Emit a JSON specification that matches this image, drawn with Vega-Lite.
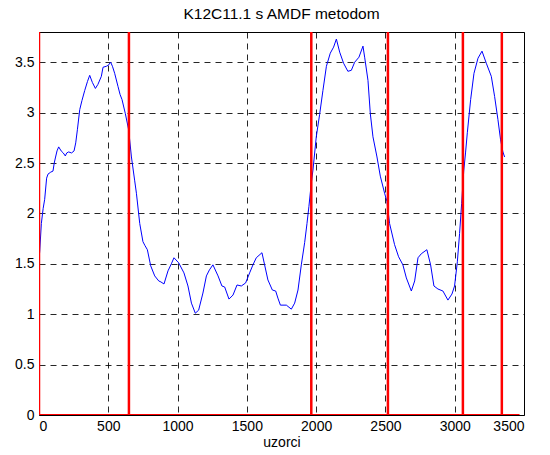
{
  "$schema": "https://vega.github.io/schema/vega-lite/v6.json",
  "autosize": "none",
  "width": 485,
  "height": 383,
  "padding": {"left": 39, "top": 32, "right": 26, "bottom": 40},
  "background": "white",
  "title": {"text": "K12C11.1 s AMDF metodom", "font": "Liberation Sans", "fontSize": 15.5, "fontWeight": "normal", "color": "#000", "offset": 10, "anchor": "middle"},
  "datasets": {
    "curve": [
      {"x":0,"y":1.55},{"x":5,"y":1.62},{"x":17,"y":1.9},{"x":30,"y":2.05},{"x":41,"y":2.14},{"x":55,"y":2.35},{"x":65,"y":2.39},{"x":85,"y":2.41},{"x":101,"y":2.42},{"x":110,"y":2.5},{"x":118,"y":2.55},{"x":130,"y":2.62},{"x":142,"y":2.66},{"x":160,"y":2.62},{"x":175,"y":2.6},{"x":190,"y":2.57},{"x":200,"y":2.6},{"x":214,"y":2.61},{"x":235,"y":2.6},{"x":253,"y":2.62},{"x":265,"y":2.7},{"x":277,"y":2.83},{"x":294,"y":3.03},{"x":310,"y":3.12},{"x":330,"y":3.22},{"x":350,"y":3.31},{"x":366,"y":3.37},{"x":385,"y":3.3},{"x":407,"y":3.24},{"x":425,"y":3.28},{"x":450,"y":3.36},{"x":462,"y":3.45},{"x":486,"y":3.46},{"x":500,"y":3.47},{"x":517,"y":3.5},{"x":530,"y":3.46},{"x":546,"y":3.39},{"x":570,"y":3.26},{"x":585,"y":3.18},{"x":599,"y":3.13},{"x":623,"y":2.99},{"x":647,"y":2.83},{"x":667,"y":2.56},{"x":690,"y":2.33},{"x":703,"y":2.2},{"x":727,"y":1.9},{"x":750,"y":1.72},{"x":765,"y":1.68},{"x":782,"y":1.64},{"x":806,"y":1.48},{"x":835,"y":1.38},{"x":864,"y":1.33},{"x":880,"y":1.32},{"x":902,"y":1.3},{"x":931,"y":1.43},{"x":955,"y":1.5},{"x":974,"y":1.56},{"x":1008,"y":1.51},{"x":1046,"y":1.41},{"x":1075,"y":1.28},{"x":1100,"y":1.11},{"x":1128,"y":1.01},{"x":1152,"y":1.04},{"x":1183,"y":1.21},{"x":1208,"y":1.38},{"x":1230,"y":1.44},{"x":1255,"y":1.49},{"x":1292,"y":1.38},{"x":1320,"y":1.28},{"x":1340,"y":1.27},{"x":1371,"y":1.15},{"x":1400,"y":1.19},{"x":1429,"y":1.29},{"x":1460,"y":1.28},{"x":1491,"y":1.31},{"x":1520,"y":1.41},{"x":1544,"y":1.49},{"x":1568,"y":1.56},{"x":1609,"y":1.61},{"x":1628,"y":1.49},{"x":1652,"y":1.34},{"x":1684,"y":1.24},{"x":1708,"y":1.23},{"x":1724,"y":1.16},{"x":1742,"y":1.09},{"x":1785,"y":1.09},{"x":1821,"y":1.05},{"x":1845,"y":1.11},{"x":1869,"y":1.24},{"x":1893,"y":1.49},{"x":1917,"y":1.71},{"x":1934,"y":1.9},{"x":1948,"y":2.07},{"x":1965,"y":2.3},{"x":1977,"y":2.43},{"x":2001,"y":2.76},{"x":2025,"y":2.98},{"x":2049,"y":3.22},{"x":2074,"y":3.46},{"x":2102,"y":3.59},{"x":2126,"y":3.65},{"x":2146,"y":3.73},{"x":2170,"y":3.6},{"x":2198,"y":3.49},{"x":2229,"y":3.41},{"x":2254,"y":3.42},{"x":2278,"y":3.5},{"x":2309,"y":3.55},{"x":2338,"y":3.66},{"x":2350,"y":3.55},{"x":2374,"y":3.32},{"x":2391,"y":2.99},{"x":2410,"y":2.76},{"x":2439,"y":2.56},{"x":2463,"y":2.37},{"x":2494,"y":2.2},{"x":2511,"y":2.12},{"x":2530,"y":1.9},{"x":2566,"y":1.69},{"x":2595,"y":1.57},{"x":2626,"y":1.49},{"x":2651,"y":1.36},{"x":2687,"y":1.23},{"x":2711,"y":1.33},{"x":2735,"y":1.56},{"x":2759,"y":1.6},{"x":2799,"y":1.64},{"x":2826,"y":1.49},{"x":2850,"y":1.28},{"x":2879,"y":1.25},{"x":2915,"y":1.23},{"x":2951,"y":1.14},{"x":2980,"y":1.2},{"x":2999,"y":1.28},{"x":3019,"y":1.52},{"x":3035,"y":1.8},{"x":3050,"y":2.1},{"x":3065,"y":2.42},{"x":3078,"y":2.6},{"x":3091,"y":2.8},{"x":3115,"y":3.13},{"x":3139,"y":3.39},{"x":3168,"y":3.54},{"x":3197,"y":3.61},{"x":3228,"y":3.49},{"x":3264,"y":3.36},{"x":3288,"y":3.16},{"x":3312,"y":2.93},{"x":3331,"y":2.73},{"x":3348,"y":2.61},{"x":3360,"y":2.56}
    ],
    "markers": [{"x":0},{"x":649},{"x":1965},{"x":2518},{"x":3059},{"x":3340}],
    "baseline": [{"x0":0,"x1":3468,"y":0}]
  },
  "encoding": {
    "x": {"type": "quantitative", "scale": {"domain": [0, 3500], "nice": false, "zero": false},
          "axis": {"title": "uzorci", "values": [0,500,1000,1500,2000,2500,3000,3500], "format": "d"}},
    "y": {"type": "quantitative", "scale": {"domain": [0, 3.8], "nice": false, "zero": false},
          "axis": {"title": null, "values": [0,0.5,1,1.5,2,2.5,3,3.5], "labelExpr": "'' + datum.value"}}
  },
  "layer": [
    {
      "data": {"name": "curve"},
      "mark": {"type": "line", "color": "#0000ff", "strokeWidth": 1, "clip": true},
      "encoding": {"x": {"field": "x"}, "y": {"field": "y"}}
    },
    {
      "data": {"name": "markers"},
      "mark": {"type": "rule", "color": "#ff0000", "strokeWidth": 2.5, "clip": true},
      "encoding": {"x": {"field": "x"}, "y": {"datum": 0}, "y2": {"datum": 3.8}}
    },
    {
      "data": {"name": "baseline"},
      "mark": {"type": "rule", "color": "#ff0000", "strokeWidth": 2, "clip": true},
      "encoding": {"x": {"field": "x0"}, "x2": {"field": "x1"}, "y": {"field": "y"}}
    }
  ],
  "config": {
    "font": "Liberation Sans",
    "view": {"stroke": "#000", "strokeWidth": 1},
    "axis": {
      "domain": false,
      "ticks": false,
      "grid": true,
      "gridColor": "#000",
      "gridOpacity": 0.85,
      "gridDash": [6, 5],
      "gridWidth": 1,
      "labelFont": "Liberation Sans",
      "labelFontSize": 14,
      "labelColor": "#000",
      "titleFont": "Liberation Sans",
      "titleFontSize": 14,
      "titleFontWeight": "normal",
      "titleColor": "#000"
    },
    "axisX": {"labelPadding": 4, "titlePadding": 2},
    "axisY": {"labelPadding": 5}
  }
}
